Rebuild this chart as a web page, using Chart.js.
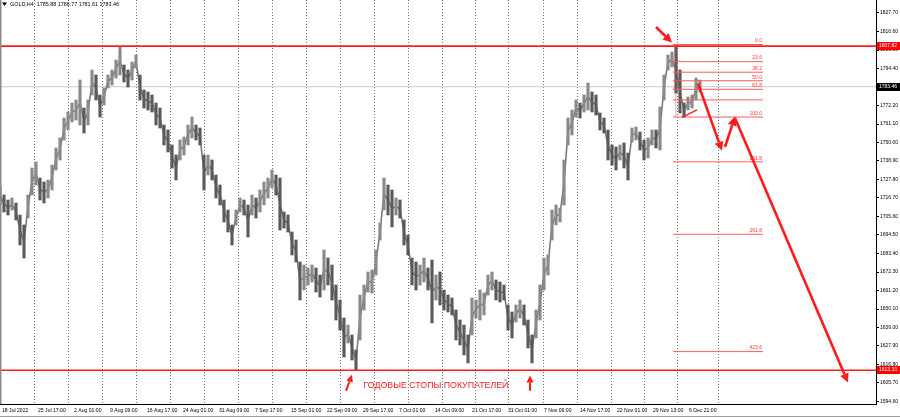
<!DOCTYPE html>
<html>
<head>
<meta charset="utf-8">
<script src="https://cdn.jsdelivr.net/npm/chart.js@4.4.0/dist/chart.umd.min.js"></script>
<style>
  html, body { margin: 0; padding: 0; background: #fff; }
  #wrap { width: 900px; height: 419px; position: relative; }
</style>
</head>
<body>
<div id="wrap"><canvas id="goldChart"></canvas></div>
<script>
// H4 bars, sampled every 4 bars (bar index, high, low)
const barX = [0,4,8,12,16,20,24,28,32,36,40,44,48,52,56,60,64,68,72,76,80,84,88,92,96,100,104,108,112,116,120,124,128,132,136,140,144,148,152,156,160,164,168,172,176,180,184,188,192,196,200,204,208,212,216,220,224,228,232,236,240,244,248,252,256,260,264,268,272,276,280,284,288,292,296,300,304,308,312,316,320,324,328,332,336,340,344,348,352,356,360,364,368,372,376,380,384,388,392,396,400,404,408,412,416,420,424,428,432,436,440,444,448,452,456,460,464,468,472,476,480,484,488,492,496,500,504,508,512,516,520,524,528,532,536,540,544,548,552,556,560,564,568,572,576,580,584,588,592,596,600,604,608,612,616,620,624,628,632,636,640,644,648,652,656,660,664,668,672,676,680,684,688,692,696,700];
const barHigh = [1723.3,1718.5,1715.5,1716.7,1713.7,1706.5,1700.5,1718.5,1734.7,1738.3,1728.7,1726.3,1727.5,1736.5,1746.7,1752.7,1764.7,1768.3,1773.7,1775.5,1787.5,1770.7,1775.5,1793.5,1790.5,1778.5,1782.7,1790.5,1793.5,1799.5,1807.8,1796.5,1793.5,1798.3,1802.5,1790.5,1781.5,1780.3,1778.5,1773.7,1770.7,1760.5,1757.5,1748.5,1742.5,1751.5,1753.3,1760.5,1765.3,1760.5,1758.7,1742.5,1742.5,1739.5,1730.5,1724.5,1715.5,1709.5,1700.5,1709.5,1716.7,1715.5,1712.5,1718.5,1716.7,1721.5,1726.3,1728.7,1733.5,1730.5,1728.7,1708.3,1706.5,1696.3,1691.5,1678.3,1676.5,1674.7,1676.5,1674.7,1670.5,1685.5,1680.7,1676.5,1664.5,1655.5,1644.7,1640.5,1634.5,1625.5,1658.5,1664.5,1672.3,1673.5,1685.5,1701.7,1728.7,1724.5,1721.5,1716.7,1715.5,1703.5,1694.5,1680.7,1678.3,1676.5,1680.7,1674.7,1679.5,1670.5,1672.3,1661.5,1658.5,1656.7,1649.5,1643.5,1640.5,1634.5,1656.7,1655.5,1661.5,1659.7,1670.5,1672.3,1667.5,1666.3,1664.5,1652.5,1648.3,1652.5,1655.5,1652.5,1643.5,1634.5,1649.5,1664.5,1680.7,1682.5,1709.5,1712.5,1710.7,1739.5,1764.7,1769.5,1775.5,1773.7,1778.5,1785.7,1780.3,1778.5,1767.7,1764.7,1757.5,1748.5,1747.3,1748.5,1749.7,1743.7,1758.7,1759.3,1756.3,1751.5,1752.7,1757.5,1757.5,1771.3,1790.5,1802.5,1804.3,1807.8,1793.5,1773.7,1777.3,1778.5,1788.7,1787.5];
const barLow = [1712.5,1708.3,1706.5,1709.5,1703.5,1688.5,1680.7,1704.7,1718.5,1724.5,1715.5,1713.7,1716.7,1721.5,1733.5,1739.5,1751.5,1757.5,1762.3,1763.5,1760.5,1755.7,1760.5,1778.5,1775.5,1765.3,1772.5,1782.7,1784.5,1788.7,1790.5,1786.3,1783.3,1787.5,1794.7,1775.5,1770.7,1769.5,1768.3,1760.5,1758.7,1748.5,1744.3,1734.7,1727.5,1739.5,1742.5,1748.5,1752.7,1751.5,1748.5,1721.5,1730.5,1727.5,1716.7,1712.5,1702.3,1696.3,1688.5,1700.5,1708.3,1706.5,1693.3,1706.5,1704.7,1708.3,1712.5,1716.7,1722.7,1718.5,1697.5,1698.7,1696.3,1682.5,1678.3,1655.5,1661.5,1664.5,1666.3,1660.3,1657.3,1661.5,1664.5,1655.5,1643.5,1637.5,1621.3,1629.7,1619.5,1613.5,1631.5,1649.5,1660.3,1659.7,1670.5,1691.5,1709.5,1706.5,1699.3,1706.5,1704.7,1688.5,1682.5,1664.5,1661.5,1664.5,1666.3,1661.5,1641.7,1655.5,1652.5,1649.5,1648.3,1646.5,1631.5,1628.5,1622.5,1617.7,1634.5,1644.7,1643.5,1646.5,1658.5,1661.5,1655.5,1654.3,1655.5,1637.5,1632.7,1642.3,1644.7,1640.5,1626.7,1617.7,1632.7,1643.5,1661.5,1670.5,1691.5,1700.5,1702.3,1712.5,1748.5,1754.5,1765.3,1764.7,1768.3,1769.5,1768.3,1766.5,1757.5,1755.7,1739.5,1736.5,1733.5,1739.5,1734.7,1727.5,1750.3,1751.5,1745.5,1739.5,1740.7,1748.5,1746.7,1745.5,1775.5,1793.5,1795.3,1779.7,1767.7,1765.3,1769.5,1770.7,1775.5,1780.3];

const priceTicks = [1827.70,1816.60,1805.50,1794.40,1783.30,1772.20,1761.10,1750.00,1738.90,1727.80,1716.70,1705.60,1694.50,1683.40,1672.30,1661.20,1650.10,1639.00,1627.90,1616.80,1605.70,1594.60];
const timeLabels = ['18 Jul 2022','25 Jul 17:00','2 Aug 01:00','9 Aug 09:00','16 Aug 17:00','24 Aug 01:00','31 Aug 09:00','7 Sep 17:00','15 Sep 01:00','22 Sep 09:00','29 Sep 17:00','7 Oct 01:00','14 Oct 09:00','21 Oct 17:00','31 Oct 01:00','7 Nov 09:00','14 Nov 17:00','22 Nov 01:00','29 Nov 13:00','6 Dec 21:00'];
const timeLabelPos = [2,38,74,110,147,183,219,255,291,327,363,399,435,472,508,544,580,617,653,689];
const gridPos = [34,68,102,136,170,204,238,272,306,340,374,408,442,475,509,543,577,611,644,677,718];

const symbol = 'GOLD,H4';
const quote = ['1785.88','1786.77','1781.61','1783.46'];
const resistance = 1807.82;
const support = 1613.33;
const lastPrice = 1783.46;

// fibo grid
const fibHigh = 1808.8;
const fibLow = 1765.3;
const fibLevels = [0, 23.6, 38.2, 50, 61.8, 76.4, 100, 161.8, 261.8, 423.6];
const fibNames = ['0.0','23.6','38.2','50.0','61.8','','100.0','161.8','261.8','423.6'];
const fibStart = 673;
const fibEnd = 763;

// hand drawn arrows [from, to] in bar / price
const bigArrows = [
    [[656, 1819.3], [672, 1810.0]],
    [[698, 1785.5], [722, 1745.0]],
    [[725, 1747.3], [735, 1765.6]],
    [[735, 1764.7], [848, 1606.0]]
];
const smallArrows = [
    [[346, 1601.0], [352, 1610.6]],
    [[530, 1601.0], [530, 1610.2]]
];
const wedgeLine = [[682, 1765.1], [697, 1769.6]];
const noteText = 'ГОДОВЫЕ СТОПЫ ПОКУПАТЕЛЕЙ';
const notePos = [436, 1603.9];

const RED = '#ff1a1a';

function fibPrice(lvl) {
    return fibHigh - lvl / 100 * (fibHigh - fibLow);
}

function hline(y, x0, x1, color, width) {
    return {
        type: 'line',
        data: [{ x: x0, y: y }, { x: x1, y: y }],
        borderColor: color,
        borderWidth: width,
        pointRadius: 0,
        xAxisID: 'x',
        yAxisID: 'y'
    };
}

function drawArrow(ctx, x1, y1, x2, y2, width, head) {
    const ang = Math.atan2(y2 - y1, x2 - x1);
    const bx = x2 - Math.cos(ang) * head;
    const by = y2 - Math.sin(ang) * head;
    ctx.lineWidth = width;
    ctx.beginPath();
    ctx.moveTo(x1, y1);
    ctx.lineTo(bx, by);
    ctx.stroke();
    ctx.beginPath();
    ctx.moveTo(x2, y2);
    ctx.lineTo(bx + Math.sin(ang) * head * 0.5, by - Math.cos(ang) * head * 0.5);
    ctx.lineTo(bx - Math.sin(ang) * head * 0.5, by + Math.cos(ang) * head * 0.5);
    ctx.closePath();
    ctx.fill();
}

function noPadding(scale) {
    scale.paddingTop = 0;
    scale.paddingBottom = 0;
    scale.paddingLeft = 0;
    scale.paddingRight = 0;
}

const overlay = {
    id: 'overlay',
    afterDatasetsDraw(chart) {
        const ctx = chart.ctx;
        const xs = chart.scales.x;
        const ys = chart.scales.y;
        const px = v => xs.getPixelForValue(v);
        const py = v => ys.getPixelForValue(v);

        ctx.save();
        // fibo labels
        ctx.fillStyle = '#ff3333';
        ctx.font = '5px "Liberation Sans"';
        ctx.textAlign = 'right';
        ctx.textBaseline = 'bottom';
        fibLevels.forEach((lvl, i) => {
            if (fibNames[i]) ctx.fillText(fibNames[i], px(fibEnd) - 1, py(fibPrice(lvl)) - 1);
        });

        // fibo anchor line
        ctx.strokeStyle = '#ff3333';
        ctx.lineWidth = 1;
        ctx.setLineDash([1, 1]);
        ctx.beginPath();
        ctx.moveTo(px(fibStart + 2), py(fibHigh));
        ctx.lineTo(px(fibStart + 3), py(fibLow));
        ctx.stroke();
        ctx.setLineDash([]);

        // small trend line
        ctx.strokeStyle = RED;
        ctx.lineWidth = 1.5;
        ctx.beginPath();
        ctx.moveTo(px(wedgeLine[0][0]), py(wedgeLine[0][1]));
        ctx.lineTo(px(wedgeLine[1][0]), py(wedgeLine[1][1]));
        ctx.stroke();

        ctx.fillStyle = RED;
        bigArrows.forEach(a => {
            drawArrow(ctx, px(a[0][0]), py(a[0][1]), px(a[1][0]), py(a[1][1]), 2.6, 9);
        });
        smallArrows.forEach(a => {
            drawArrow(ctx, px(a[0][0]), py(a[0][1]), px(a[1][0]), py(a[1][1]), 2, 7);
        });

        ctx.font = '8.8px "Liberation Sans"';
        ctx.textAlign = 'center';
        ctx.textBaseline = 'middle';
        ctx.fillText(noteText, px(notePos[0]), py(notePos[1]));

        // symbol line top-left
        ctx.fillStyle = '#000';
        ctx.beginPath();
        ctx.moveTo(2, 2.5);
        ctx.lineTo(7, 2.5);
        ctx.lineTo(4.5, 6);
        ctx.closePath();
        ctx.fill();
        ctx.font = '5.4px "Liberation Sans"';
        ctx.textAlign = 'left';
        ctx.fillText(symbol + '  ' + quote.join(' '), 10, 4.5);
        ctx.restore();
    },
    afterDraw(chart) {
        const ctx = chart.ctx;
        const ys = chart.scales.y;
        const area = chart.chartArea;
        ctx.save();
        const tag = (v, bg) => {
            const y = Math.round(ys.getPixelForValue(v));
            ctx.fillStyle = bg;
            ctx.fillRect(area.right + 1, y - 4, 23, 8);
            ctx.fillStyle = '#fff';
            ctx.font = '5px "Liberation Sans"';
            ctx.textAlign = 'left';
            ctx.textBaseline = 'middle';
            ctx.fillText(v.toFixed(2), area.right + 3, y);
        };
        tag(resistance, '#ff0000');
        tag(lastPrice, '#000000');
        tag(support, '#ff0000');

        ctx.fillStyle = '#8a8a8a';
        ctx.fillRect(0, 0, 1.5, area.bottom);
        ctx.fillStyle = '#a0a0a0';
        ctx.fillRect(0, 416, chart.width, 1);
        ctx.restore();
    }
};

const bars = barX.map((x, i) => ({ x: x, y: [barLow[i], barHigh[i]] }));
const barColors = bars.map((b, i) => {
    if (i === 0) return '#707070';
    const mid = (barHigh[i] + barLow[i]) / 2;
    const prev = (barHigh[i - 1] + barLow[i - 1]) / 2;
    return mid >= prev ? '#8a8a8a' : '#5a5a5a';
});
// a thin path through the bar middles so the bars read as one squiggle
const midPath = barX.map((x, i) => ({ x: x, y: (barHigh[i] + barLow[i]) / 2 }));

const datasets = [
    hline(resistance, 0, 876, RED, 1.6),
    hline(support, 0, 876, RED, 1.6)
];
fibLevels.forEach(lvl => {
    datasets.push(hline(fibPrice(lvl), fibStart, fibEnd, '#ff5a5a', 1));
});
datasets.push({
    type: 'bar',
    data: bars,
    backgroundColor: barColors,
    borderWidth: 0,
    barThickness: 2.5,
    xAxisID: 'x',
    yAxisID: 'y'
});
datasets.push({
    type: 'line',
    data: midPath,
    borderColor: '#7a7a7a',
    borderWidth: 1.6,
    pointRadius: 0,
    tension: 0,
    xAxisID: 'x',
    yAxisID: 'y'
});
datasets.push(hline(lastPrice, 0, 876, '#c8c8c8', 1));

const chartCanvas = document.getElementById('goldChart').getContext('2d');

new Chart(chartCanvas, {
    type: 'bar',
    data: { datasets: datasets },
    plugins: [overlay],
    options: {
        responsive: true,
        maintainAspectRatio: false,
        animation: false,
        devicePixelRatio: 1,
        layout: { padding: 0 },
        plugins: {
            legend: { display: false },
            tooltip: { enabled: false }
        },
        scales: {
            x: {
                type: 'linear',
                position: 'bottom',
                min: 0,
                max: 876,
                offset: false,
                grid: { display: false, drawTicks: false, tickLength: 0, offset: false },
                border: { display: true, color: '#000', width: 1 },
                afterBuildTicks: scale => {
                    scale.ticks = timeLabelPos.map(v => ({ value: v }));
                },
                afterFit: scale => { scale.height = 15; noPadding(scale); },
                ticks: {
                    autoSkip: false,
                    maxRotation: 0,
                    align: 'start',
                    padding: 4,
                    color: '#000',
                    font: { family: 'Liberation Sans', size: 5.1 },
                    callback: (v, i) => timeLabels[i]
                }
            },
            xg: {
                type: 'linear',
                position: 'top',
                min: 0,
                max: 876,
                offset: false,
                grid: { display: true, color: '#6e6e6e', lineWidth: 1, drawTicks: false, offset: false },
                border: { display: false, dash: [1, 2] },
                afterBuildTicks: scale => {
                    scale.ticks = gridPos.map(v => ({ value: v }));
                },
                afterFit: scale => { scale.height = 0; noPadding(scale); },
                ticks: { display: false }
            },
            y: {
                type: 'linear',
                position: 'right',
                min: 1593.1,
                max: 1835.5,
                grid: { drawOnChartArea: false, drawTicks: true, tickLength: 3, color: '#000' },
                border: { display: true, color: '#000', width: 1 },
                afterBuildTicks: scale => {
                    scale.ticks = priceTicks.map(v => ({ value: v }));
                },
                afterFit: scale => { scale.width = 24; noPadding(scale); },
                ticks: {
                    autoSkip: false,
                    padding: 1,
                    color: '#000',
                    font: { family: 'Liberation Sans', size: 5 },
                    callback: v => v.toFixed(2)
                }
            }
        }
    }
});
</script>
</body>
</html>
